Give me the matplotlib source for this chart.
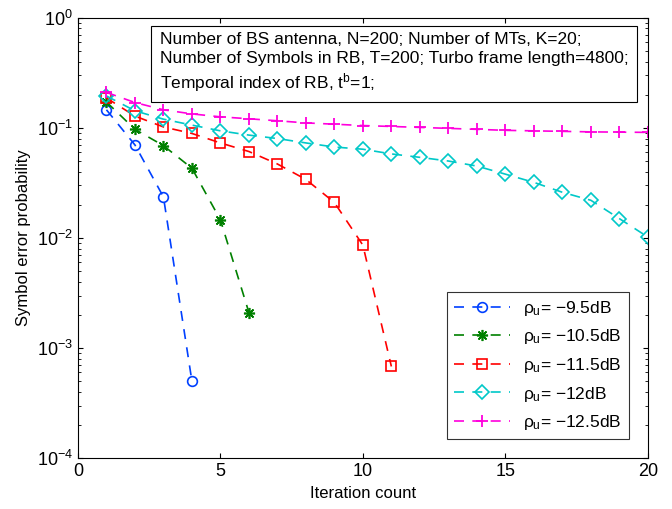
import numpy as np
import matplotlib
matplotlib.use("Agg")
import matplotlib.pyplot as plt

plt.rcParams['font.family'] = ['Liberation Sans', 'DejaVu Sans']
plt.rcParams['mathtext.fontset'] = 'custom'
plt.rcParams['mathtext.rm'] = 'Liberation Sans'
plt.rcParams['mathtext.it'] = 'Liberation Sans'

it_blue = [1, 2, 3, 4]
ser_blue = [0.146, 0.070, 0.0236, 0.0005]
it_green = [1, 2, 3, 4, 5, 6]
ser_green = [0.172, 0.097, 0.069, 0.043, 0.0146, 0.0021]
it_red = list(range(1, 12))
ser_red = [0.187, 0.128, 0.102, 0.089, 0.073, 0.061, 0.047, 0.034, 0.021, 0.0086, 0.00068]
it_cyan = list(range(1, 21))
ser_cyan = [0.195, 0.143, 0.120, 0.106, 0.094, 0.086, 0.080, 0.073, 0.067, 0.064,
            0.058, 0.054, 0.050, 0.045, 0.038, 0.032, 0.026, 0.022, 0.015, 0.0102]
it_mag = list(range(1, 21))
ser_mag = [0.21, 0.17, 0.146, 0.134, 0.126, 0.121, 0.116, 0.111, 0.108, 0.105,
           0.103, 0.101, 0.099, 0.097, 0.095, 0.094, 0.093, 0.092, 0.0915, 0.091]

labels = [r'$\rho_{\mathregular{u}}$= −9.5dB', r'$\rho_{\mathregular{u}}$= −10.5dB',
          r'$\rho_{\mathregular{u}}$= −11.5dB', r'$\rho_{\mathregular{u}}$= −12dB',
          r'$\rho_{\mathregular{u}}$= −12.5dB']

fig = plt.figure(figsize=(6.72, 5.09), dpi=100)
ax = fig.add_axes([0.116, 0.10, 0.848, 0.865])

dash = (6, 5)
ax.semilogy(it_blue, ser_blue, '--o', color='#0040ff', mfc='none', ms=7, mew=1.2, lw=1.2, label=labels[0], dashes=dash)
ax.semilogy(it_green, ser_green, '--', marker=(8, 2, 0), color='#008000', ms=8, mew=1.2, lw=1.2, label=labels[1], dashes=dash)
ax.semilogy(it_red, ser_red, '--s', color='#ff0000', mfc='none', ms=7, mew=1.2, lw=1.2, label=labels[2], dashes=dash)
ax.semilogy(it_cyan, ser_cyan, '--D', color='#00c8c8', mfc='none', ms=7, mew=1.2, lw=1.2, label=labels[3], dashes=dash)
ax.semilogy(it_mag, ser_mag, '--+', color='#ff00dd', ms=9, mew=1.3, lw=1.2, label=labels[4], dashes=dash)

ax.set_xlim(0, 20)
ax.set_ylim(1e-4, 1)
ax.set_xticks([0, 5, 10, 15, 20])
ax.tick_params(which='both', direction='in', top=True, right=True, labelsize=13)
ax.set_xlabel('Iteration count', fontsize=12)
ax.set_ylabel('Symbol error probability', fontsize=12)

leg = ax.legend(loc='lower right', fontsize=12.5, fancybox=False, edgecolor='black',
                handlelength=3.2, borderaxespad=1.1, labelspacing=0.55)
leg.get_frame().set_linewidth(0.8)

txt = ('Number of BS antenna, N=200; Number of MTs, K=20;\n'
       'Number of Symbols in RB, T=200; Turbo frame length=4800;\n'
       r'Temporal index of RB, $\mathregular{t^b}$=1;')
ax.text(0.144, 0.968, txt, transform=ax.transAxes, va='top', ha='left', fontsize=12.5,
        linespacing=1.3,
        bbox=dict(boxstyle='square,pad=0.5', fc='white', ec='black', lw=0.8))

fig.savefig('out.png', dpi=100)
